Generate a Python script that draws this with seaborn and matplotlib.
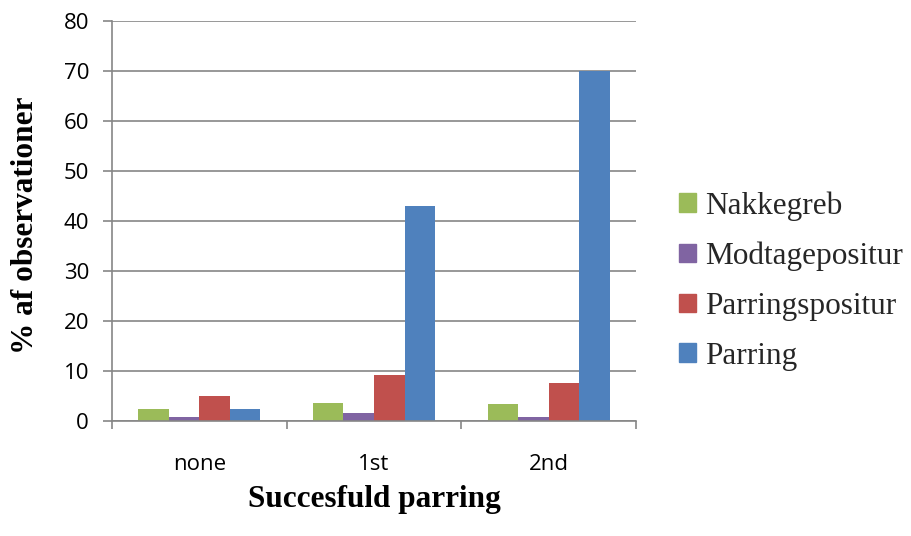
import matplotlib
matplotlib.use("Agg")
import matplotlib.pyplot as plt
import seaborn as sns
import pandas as pd

categories = ["none", "1st", "2nd"]
series_names = ["Nakkegreb", "Modtagepositur", "Parringspositur", "Parring"]
nakkegreb = [2.5, 3.7, 3.4]
modtagepositur = [0.9, 1.7, 0.9]
parringspositur = [5.0, 9.3, 7.7]
parring = [2.5, 43.0, 70.0]
colors = ["#9BBB59", "#8064A2", "#C0504D", "#4F81BD"]
y_ticks = [0, 10, 20, 30, 40, 50, 60, 70, 80]

rows = []
for name, vals in zip(series_names, [nakkegreb, modtagepositur, parringspositur, parring]):
    for cat, v in zip(categories, vals):
        rows.append({"kategori": cat, "serie": name, "værdi": v})
df = pd.DataFrame(rows)

sns.set_theme(style="white")
fig = plt.figure(figsize=(9.11, 5.36), dpi=100)
ax = fig.add_axes([112 / 911, 1 - 421 / 536, (636 - 112) / 911, 400 / 536])

sns.barplot(data=df, x="kategori", y="værdi", hue="serie", order=categories,
            hue_order=series_names, palette=colors, width=0.7, saturation=1,
            ax=ax, legend=False, linewidth=0)

ax.set_ylim(0, 80)
ax.set_xlim(-0.5, 2.5)
ax.set_yticks(y_ticks)
ax.yaxis.grid(True, color="#868686", linewidth=1.2)
ax.set_axisbelow(True)
for s in ["top", "right"]:
    ax.spines[s].set_visible(False)
for s in ["left", "bottom"]:
    ax.spines[s].set_color("#868686")
    ax.spines[s].set_linewidth(1.2)

tick_font = dict(family="Open Sans", size=16, color="black")
ax.set_yticklabels([str(t) for t in y_ticks], **tick_font)
ax.tick_params(axis="y", which="major", left=True, length=6.5, width=1.2, color="#868686", pad=10)
ax.set_xticks([0, 1, 2])
ax.set_xticklabels(categories, **tick_font)
ax.tick_params(axis="x", which="major", bottom=False, pad=18)
ax.set_xticks([-0.5, 0.5, 1.5, 2.5], minor=True)
ax.tick_params(axis="x", which="minor", bottom=True, length=6, width=1.2, color="#868686")

label_font = dict(family="Liberation Serif", size=22.5, weight="bold", color="black")
ax.set_xlabel("Succesfuld parring", **label_font)
ax.set_ylabel("% af observationer", **label_font)
ax.xaxis.label.set_va("center")
ax.yaxis.label.set_va("center")
ax.xaxis.set_label_coords(0.5, (421 - 499) / 400)
ax.yaxis.set_label_coords((26 - 112) / 524, (421 - 225) / 400)

handles = [plt.Rectangle((0, 0), 1, 1, color=c) for c in colors]
leg = fig.legend(handles, series_names, loc="center left",
                 bbox_to_anchor=(679 / 911, 1 - 281 / 536), frameon=False,
                 prop={"family": "Liberation Serif", "size": 22.5},
                 handlelength=0.55, handleheight=0.55, handletextpad=0.28,
                 labelspacing=0.67, borderpad=0, borderaxespad=0)

fig.savefig("out.png", dpi=100)
